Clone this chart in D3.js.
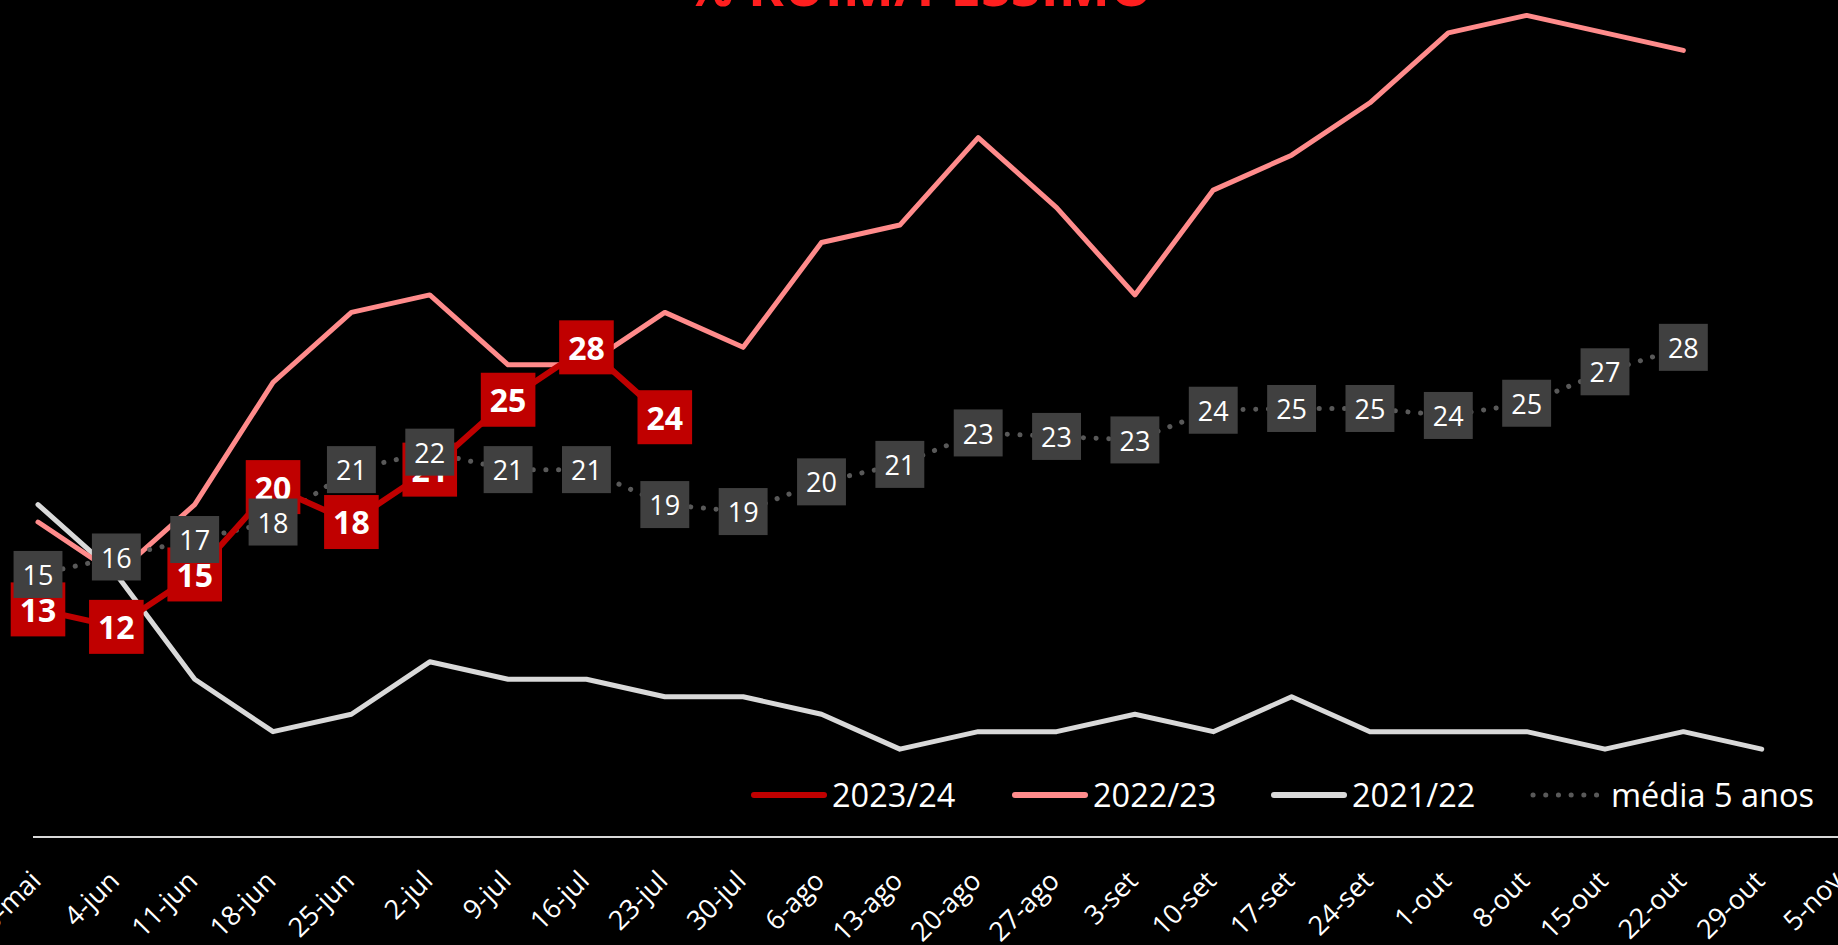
<!DOCTYPE html>
<html>
<head>
<meta charset="utf-8">
<script src="https://cdn.jsdelivr.net/npm/d3@7"></script>
<style>
  body { margin: 0; background: #000; }
  svg { display: block; }
</style>
</head>
<body>
<div id="chart"></div>
<script>
// weekly categories
var categories = ["28-mai", "4-jun", "11-jun", "18-jun", "25-jun", "2-jul", "9-jul", "16-jul", "23-jul", "30-jul",
  "6-ago", "13-ago", "20-ago", "27-ago", "3-set", "10-set", "17-set", "24-set", "1-out", "8-out",
  "15-out", "22-out", "29-out", "5-nov"];

// % ruim/pessimo per season
var s2023 = [13, 12, 15, 20, 18, 21, 25, 28, 24];
var s2022 = [18, 15, 19, 26, 30, 31, 27, 27, 30, 28, 34, 35, 40, 36, 31, 37, 39, 42, 46, 47, 46, 45];
var s2021 = [19, 15, 9, 6, 7, 10, 9, 9, 8, 8, 7, 5, 6, 6, 7, 6, 8, 6, 6, 6, 5, 6, 5];
var media = [15, 16, 17, 18, 21, 22, 21, 21, 19, 18.6, 20.3, 21.3, 23.1, 22.9, 22.7, 24.4, 24.5, 24.5, 24.1, 24.8, 26.6, 28];

var seriesNames = ["2023/24", "2022/23", "2021/22", "média 5 anos"];
var title = "% RUIM/PÉSSIMO";

var width = 1838, height = 945;
var font = "'Open Sans', 'Noto Sans', sans-serif";

var svg = d3.select("#chart").append("svg")
    .attr("width", width)
    .attr("height", height)
    .style("background", "#000");

// scales (plot is cropped at top and right like the original)
var x = d3.scalePoint()
    .domain(categories)
    .range([38, 38 + 23 * 78.35]);
var y = d3.scaleLinear()
    .domain([0, 50])
    .range([836.5, 836.5 - 50 * 17.47]);

var toPoints = function(arr) {
  return arr.map(function(v, i) { return {cat: categories[i], v: v}; });
};

var line = d3.line()
    .x(function(d) { return x(d.cat); })
    .y(function(d) { return y(d.v); });

// title, mostly cut off by the top edge
svg.append("text")
    .attr("x", 919)
    .attr("y", 6)
    .attr("text-anchor", "middle")
    .attr("textLength", 468)
    .attr("lengthAdjust", "spacingAndGlyphs")
    .style("font-family", font)
    .style("font-weight", "bold")
    .style("font-size", "56px")
    .style("fill", "#ff1f1f")
    .text(title);

// x axis
var xAxis = svg.append("g")
    .attr("transform", "translate(0," + y(0) + ")")
    .call(d3.axisBottom(x).tickSize(0).tickPadding(0));
xAxis.select(".domain").remove();
xAxis.append("line")
    .attr("x1", 33)
    .attr("x2", width)
    .attr("y1", 0.5)
    .attr("y2", 0.5)
    .attr("stroke", "#d9d9d9")
    .attr("stroke-width", 2);
xAxis.selectAll("text")
    .attr("y", 0)
    .attr("dy", 0)
    .attr("transform", "translate(4,46) rotate(-45)")
    .style("text-anchor", "end")
    .style("font-family", font)
    .style("font-size", "27px")
    .style("fill", "#fff");

// lines
var series = [
  {data: s2021, color: "#d9d9d9", w: 5, dash: null},
  {data: s2022, color: "#ff8b8b", w: 5, dash: null},
  {data: media, color: "#595959", w: 5, dash: "0.1,12.6"},
  {data: s2023, color: "#c00000", w: 6, dash: null}
];
series.forEach(function(s) {
  svg.append("path")
      .datum(toPoints(s.data))
      .attr("d", line)
      .attr("fill", "none")
      .attr("stroke", s.color)
      .attr("stroke-width", s.w)
      .attr("stroke-linejoin", "round")
      .attr("stroke-linecap", "round")
      .attr("stroke-dasharray", s.dash);
});

// data labels
var addLabels = function(arr, boxColor, size, weight, boxH) {
  var g = svg.append("g");
  var lab = g.selectAll("g")
      .data(toPoints(arr))
    .enter().append("g")
      .attr("transform", function(d) { return "translate(" + x(d.cat) + "," + y(d.v) + ")"; });
  var rects = lab.append("rect").attr("fill", boxColor);
  var texts = lab.append("text")
      .attr("text-anchor", "middle")
      .attr("y", size * 0.357 + 1)
      .style("font-family", font)
      .style("font-size", size + "px")
      .style("font-weight", weight)
      .style("fill", "#fff")
      .text(function(d) { return Math.round(d.v); });
  texts.each(function(d, i) {
    var w = this.getComputedTextLength() + 18;
    d3.select(rects.nodes()[i])
        .attr("x", -w / 2)
        .attr("y", -boxH / 2)
        .attr("width", w)
        .attr("height", boxH);
  });
};
addLabels(s2023, "#c00000", 32, "bold", 54);
addLabels(media, "#404040", 27, "normal", 47);

// legend
var legendItems = [
  {name: seriesNames[0], color: "#c00000", w: 6, dash: null, x: 754},
  {name: seriesNames[1], color: "#ff8b8b", w: 6, dash: null, x: 1015},
  {name: seriesNames[2], color: "#d9d9d9", w: 6, dash: null, x: 1274},
  {name: seriesNames[3], color: "#595959", w: 5, dash: "0.1,12.6", x: 1533}
];
var legend = svg.selectAll(".legend")
    .data(legendItems)
  .enter().append("g")
    .attr("class", "legend")
    .attr("transform", function(d) { return "translate(" + d.x + ",795)"; });
legend.append("line")
    .attr("x1", 0)
    .attr("x2", 70)
    .attr("stroke", function(d) { return d.color; })
    .attr("stroke-width", function(d) { return d.w; })
    .attr("stroke-linecap", "round")
    .attr("stroke-dasharray", function(d) { return d.dash; });
legend.append("text")
    .attr("x", 78)
    .attr("y", 12)
    .style("font-family", font)
    .style("font-size", "32.5px")
    .style("fill", "#fff")
    .text(function(d) { return d.name; });
</script>
</body>
</html>
